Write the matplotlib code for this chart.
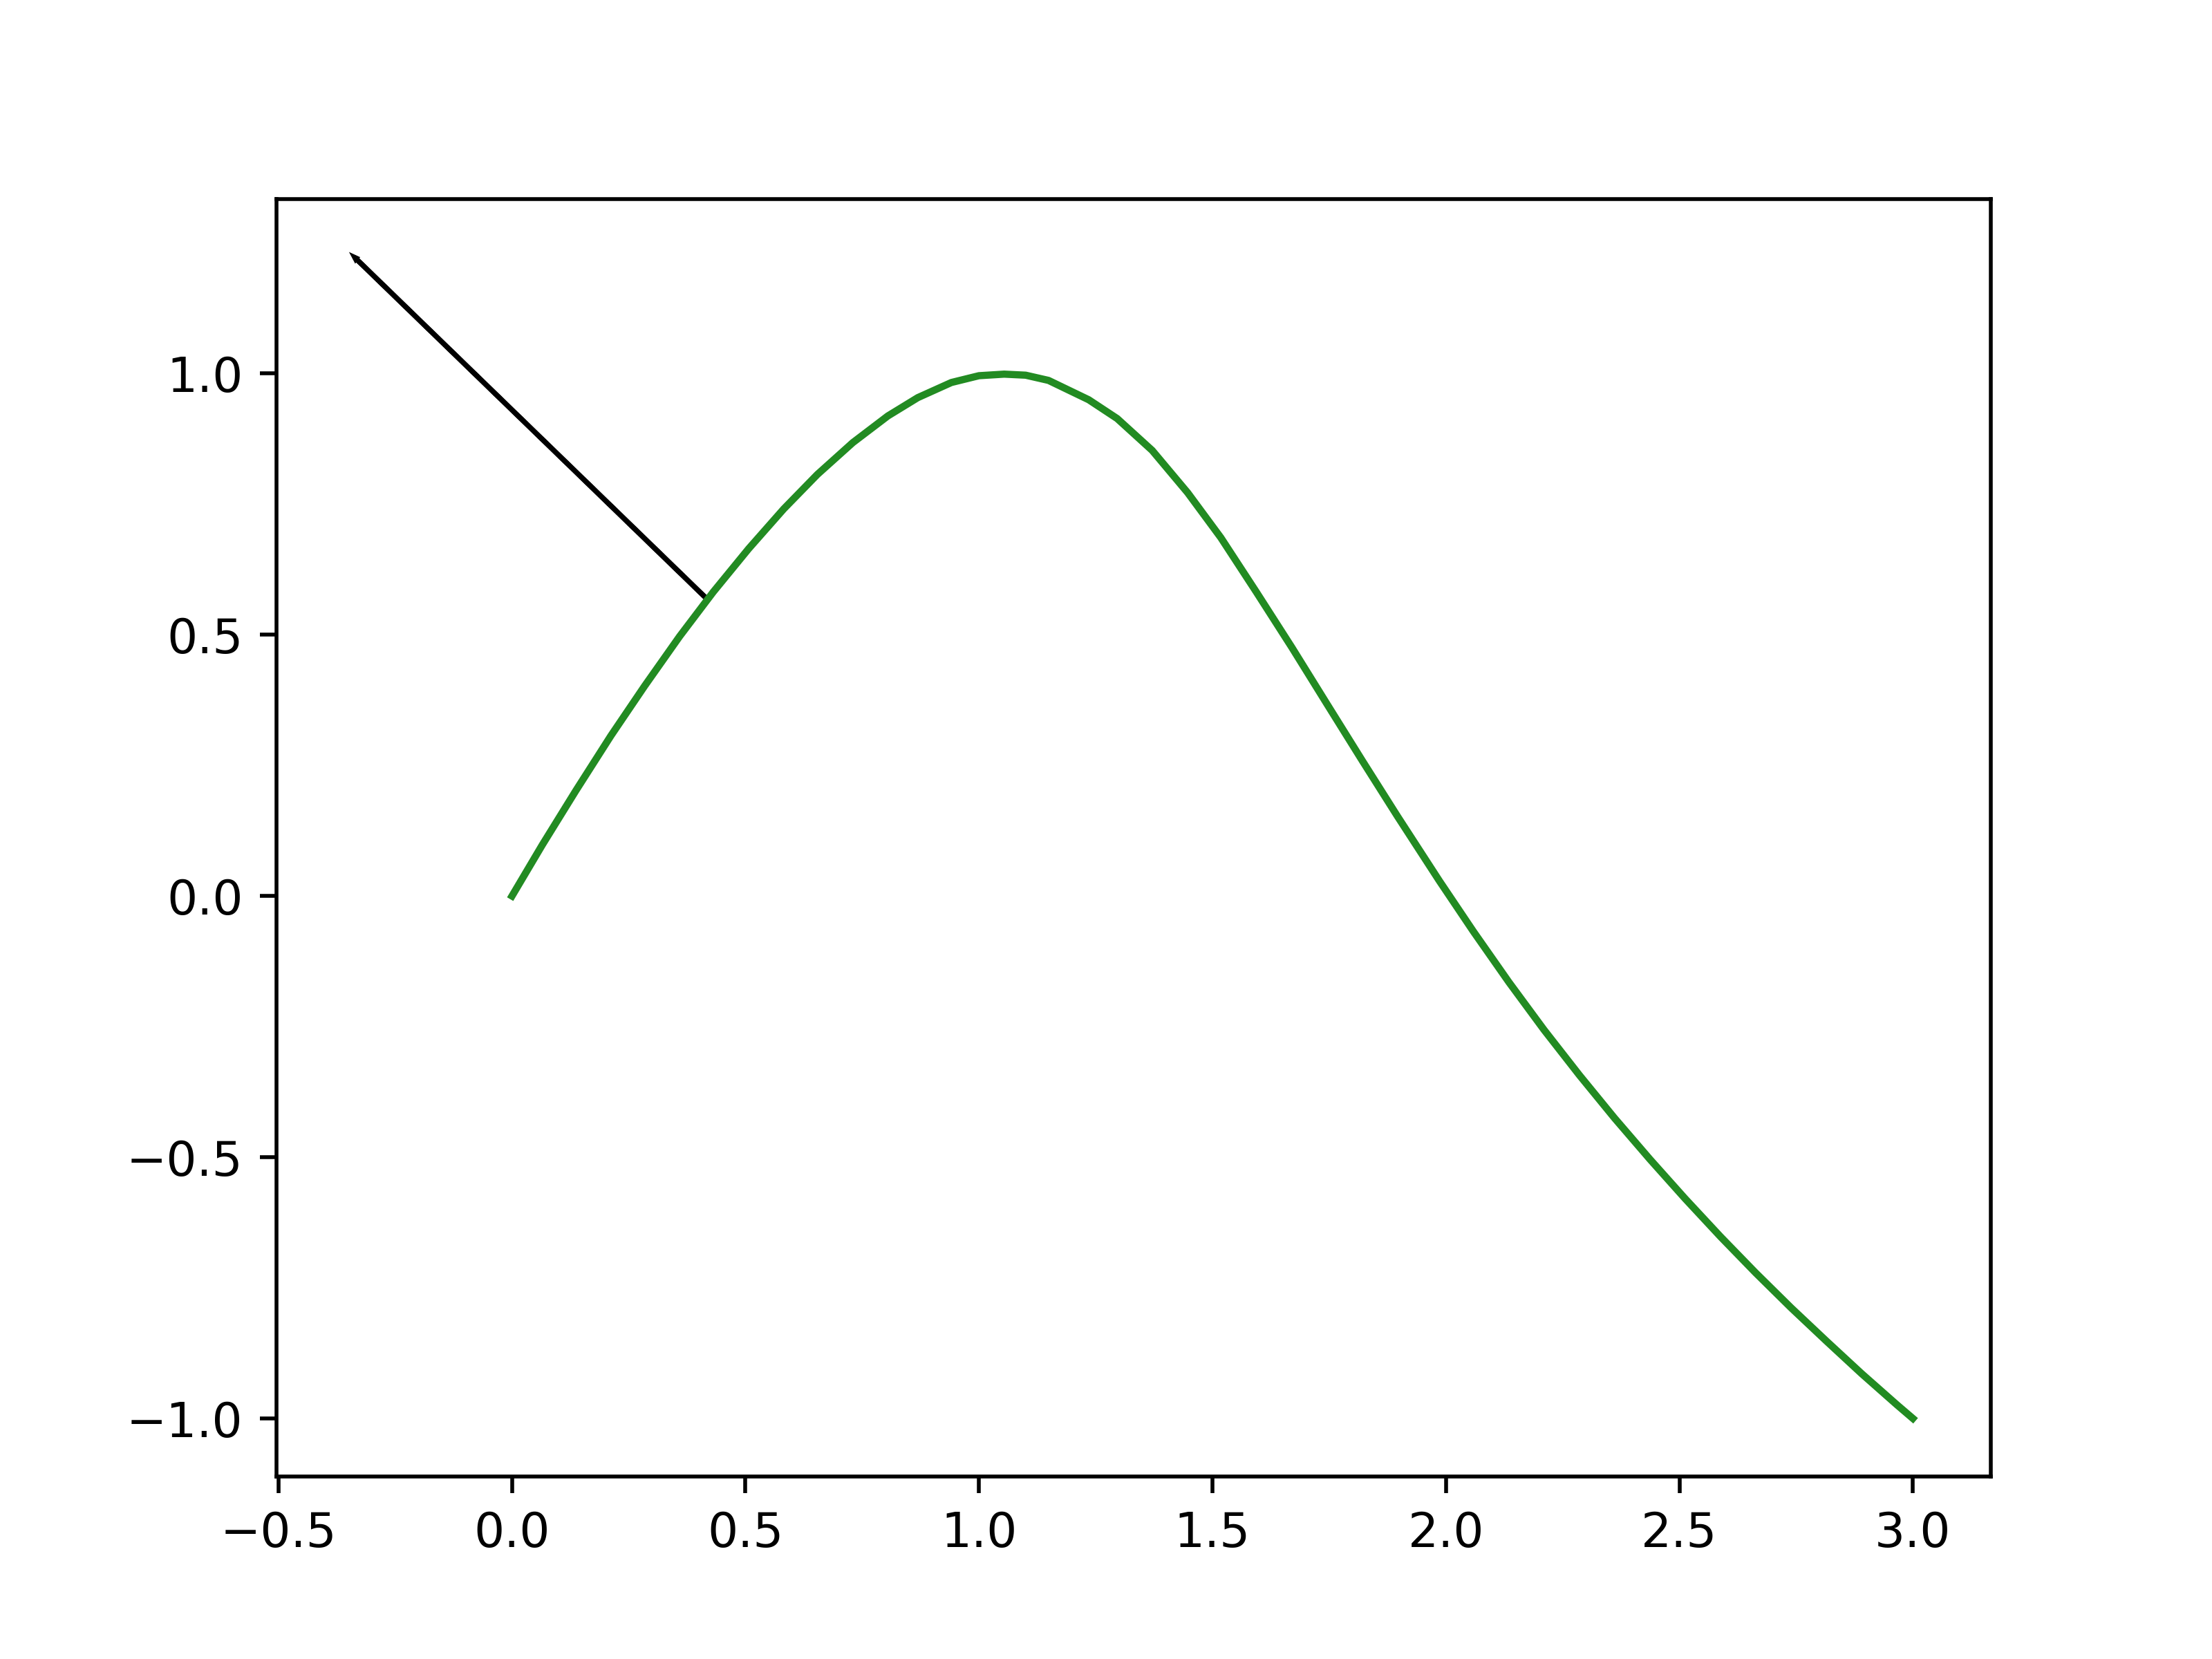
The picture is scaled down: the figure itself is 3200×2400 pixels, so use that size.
import matplotlib
matplotlib.use("Agg")
import matplotlib.pyplot as plt

# points
curve_x = [0.000, 0.065, 0.137, 0.212, 0.284, 0.359, 0.431, 0.507, 0.582, 0.654,
           0.730, 0.805, 0.869, 0.941, 1.000, 1.054, 1.100, 1.149, 1.235, 1.296,
           1.371, 1.447, 1.518, 1.594, 1.670, 1.745, 1.821, 1.896, 1.986, 2.059,
           2.135, 2.210, 2.286, 2.361, 2.437, 2.512, 2.588, 2.663, 2.739, 2.815,
           2.890, 2.966, 3.000]
curve_y = [0.000, 0.098, 0.202, 0.307, 0.402, 0.497, 0.582, 0.665, 0.741, 0.807,
           0.868, 0.919, 0.954, 0.983, 0.996, 0.999, 0.997, 0.987, 0.950, 0.914,
           0.853, 0.772, 0.686, 0.582, 0.476, 0.368, 0.259, 0.153, 0.029, -0.068,
           -0.165, -0.256, -0.343, -0.425, -0.504, -0.579, -0.652, -0.721, -0.788, -0.852,
           -0.914, -0.974, -1.000]

# normal arrow
arrow_start = (0.416, 0.570)
arrow_delta = (-0.750, 0.650)

fig, ax = plt.subplots(figsize=(6.4, 4.8))
ax.plot(curve_x, curve_y, color="forestgreen")
ax.arrow(arrow_start[0], arrow_start[1], arrow_delta[0], arrow_delta[1], color="black")

fig.savefig("out.png", dpi=500)
